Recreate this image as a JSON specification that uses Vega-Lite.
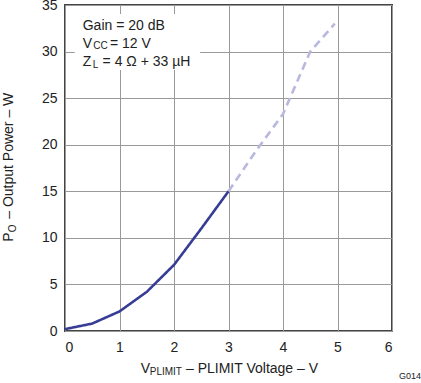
{
  "$schema": "https://vega.github.io/schema/vega-lite/v6.json",
  "width": 327,
  "height": 326,
  "autosize": {"type": "none"},
  "padding": {"left": 65, "top": 5, "right": 29, "bottom": 52},
  "background": "white",
  "config": {
    "view": {"stroke": "#444444", "strokeWidth": 2},
    "font": "Liberation Sans",
    "axis": {
      "domain": false,
      "ticks": false,
      "grid": true,
      "gridColor": "#9a9a9a",
      "gridWidth": 1,
      "labelFont": "Liberation Sans",
      "labelFontSize": 14,
      "labelColor": "#222222",
      "title": null
    }
  },
  "datasets": {
    "curve": [
      {"v": 0, "p": 0.2, "series": "measured"},
      {"v": 0.5, "p": 0.8, "series": "measured"},
      {"v": 1, "p": 2.1, "series": "measured"},
      {"v": 1.5, "p": 4.2, "series": "measured"},
      {"v": 2, "p": 7.1, "series": "measured"},
      {"v": 2.5, "p": 11.0, "series": "measured"},
      {"v": 3, "p": 15.0, "series": "measured"},
      {"v": 3, "p": 15.0, "series": "extrapolated"},
      {"v": 3.5, "p": 19.3, "series": "extrapolated"},
      {"v": 4, "p": 23.3, "series": "extrapolated"},
      {"v": 4.5, "p": 30.0, "series": "extrapolated"},
      {"v": 4.95, "p": 33.0, "series": "extrapolated"}
    ],
    "box": [{"x": 0.18, "x2": 2.48, "y": 34.03, "y2": 28.02}],
    "mainText": [
      {"x": 0.325, "y": 32.32, "t": "Gain = 20 dB"},
      {"x": 0.325, "y": 30.42, "t": "V"},
      {"x": 0.826, "y": 30.42, "t": "= 12 V"},
      {"x": 0.325, "y": 28.48, "t": "Z"},
      {"x": 0.69, "y": 28.48, "t": "= 4 Ω + 33 µH"},
      {"x": 1.389, "y": -4.54, "t": "V"},
      {"x": 2.22, "y": -4.54, "t": "– PLIMIT Voltage – V"}
    ],
    "subText": [
      {"x": 0.52, "y": 30.25, "t": "CC"},
      {"x": 0.508, "y": 28.2, "t": "L"},
      {"x": 1.555, "y": -4.72, "t": "PLIMIT"}
    ],
    "yTitleMain": [
      {"x": -0.945, "y": 9.59, "t": "P"},
      {"x": -0.945, "y": 12.05, "t": "– Output Power – W"}
    ],
    "yTitleSub": [
      {"x": -0.89, "y": 10.6, "t": "O"}
    ],
    "code": [{"x": 6.33, "y": -5.15, "t": "G014"}]
  },
  "layer": [
    {
      "data": {"name": "curve"},
      "mark": {"type": "line", "strokeWidth": 2.6, "clip": false},
      "encoding": {
        "x": {"field": "v", "type": "quantitative", "scale": {"domain": [0, 6], "nice": false}, "axis": {"values": [0, 1, 2, 3, 4, 5, 6], "format": "d", "labelPadding": 9}},
        "y": {"field": "p", "type": "quantitative", "scale": {"domain": [0, 35], "nice": false}, "axis": {"values": [0, 5, 10, 15, 20, 25, 30, 35], "format": "d", "labelPadding": 8}},
        "color": {"field": "series", "type": "nominal", "scale": {"domain": ["measured", "extrapolated"], "range": ["#373d94", "#b9b9e0"]}, "legend": null},
        "strokeDash": {"field": "series", "type": "nominal", "scale": {"domain": ["measured", "extrapolated"], "range": [[1, 0], [8, 5]]}, "legend": null}
      }
    },
    {
      "data": {"name": "box"},
      "mark": {"type": "rect", "fill": "white"},
      "encoding": {
        "x": {"field": "x", "type": "quantitative"},
        "x2": {"field": "x2"},
        "y": {"field": "y", "type": "quantitative"},
        "y2": {"field": "y2"}
      }
    },
    {
      "data": {"name": "mainText"},
      "mark": {"type": "text", "align": "left", "baseline": "alphabetic", "fontSize": 14, "color": "#222222", "clip": false},
      "encoding": {
        "x": {"field": "x", "type": "quantitative"},
        "y": {"field": "y", "type": "quantitative"},
        "text": {"field": "t"}
      }
    },
    {
      "data": {"name": "subText"},
      "mark": {"type": "text", "align": "left", "baseline": "alphabetic", "fontSize": 10, "color": "#222222", "clip": false},
      "encoding": {
        "x": {"field": "x", "type": "quantitative"},
        "y": {"field": "y", "type": "quantitative"},
        "text": {"field": "t"}
      }
    },
    {
      "data": {"name": "yTitleMain"},
      "mark": {"type": "text", "align": "left", "baseline": "alphabetic", "angle": 270, "fontSize": 14, "color": "#222222", "clip": false},
      "encoding": {
        "x": {"field": "x", "type": "quantitative"},
        "y": {"field": "y", "type": "quantitative"},
        "text": {"field": "t"}
      }
    },
    {
      "data": {"name": "yTitleSub"},
      "mark": {"type": "text", "align": "left", "baseline": "alphabetic", "angle": 270, "fontSize": 10, "color": "#222222", "clip": false},
      "encoding": {
        "x": {"field": "x", "type": "quantitative"},
        "y": {"field": "y", "type": "quantitative"},
        "text": {"field": "t"}
      }
    },
    {
      "data": {"name": "code"},
      "mark": {"type": "text", "align": "center", "baseline": "alphabetic", "fontSize": 9, "color": "#222222", "clip": false},
      "encoding": {
        "x": {"field": "x", "type": "quantitative"},
        "y": {"field": "y", "type": "quantitative"},
        "text": {"field": "t"}
      }
    }
  ]
}
